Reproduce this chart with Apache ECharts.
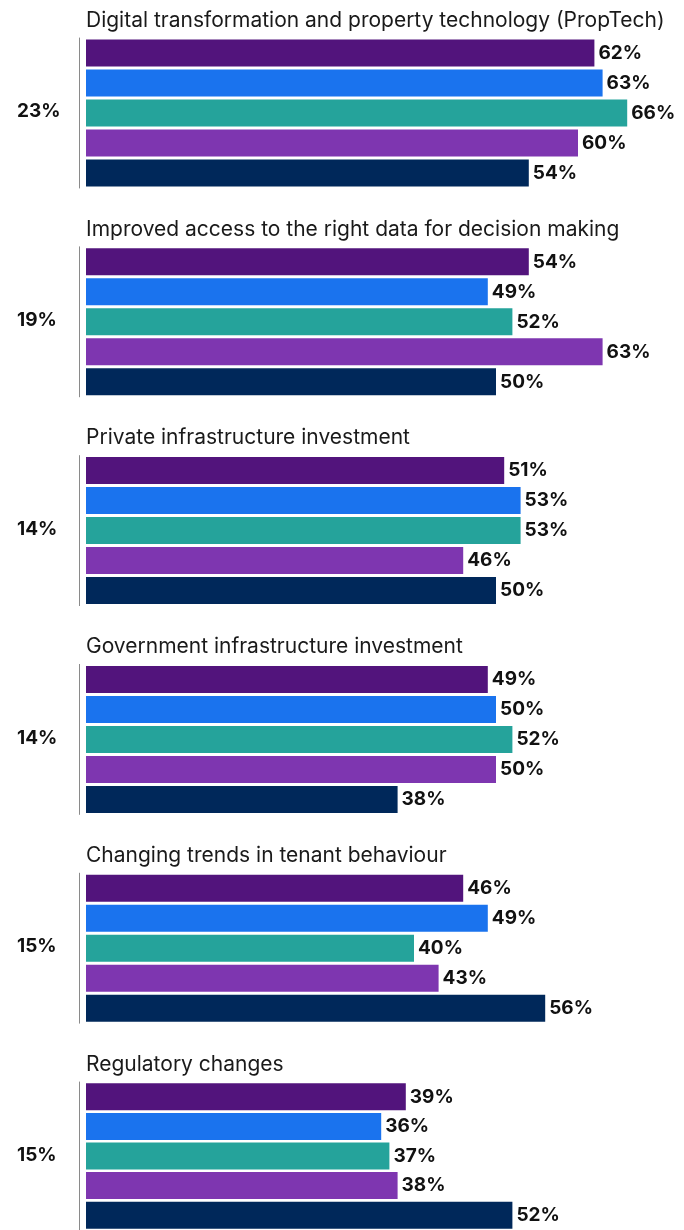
<!DOCTYPE html>
<html>
<head>
<meta charset="utf-8">
<script src="https://cdn.jsdelivr.net/npm/echarts@6/dist/echarts.min.js"></script>
<style>
  html, body { margin: 0; padding: 0; background: #ffffff; }
  #chart { width: 684px; height: 1230px; }
</style>
</head>
<body>
<div id="chart"></div>
<script>
// Survey themes, each with its overall share and five segment results
const topics = [
  'Digital transformation and property technology (PropTech)',
  'Improved access to the right data for decision making',
  'Private infrastructure investment',
  'Government infrastructure investment',
  'Changing trends in tenant behaviour',
  'Regulatory changes'
];
const shares = [23, 19, 14, 14, 15, 15];
const segments = ['S1', 'S2', 'S3', 'S4', 'S5'];
const values = [
  [62, 63, 66, 60, 54],
  [54, 49, 52, 63, 50],
  [51, 53, 53, 46, 50],
  [49, 50, 52, 50, 38],
  [46, 49, 40, 43, 56],
  [39, 36, 37, 38, 52]
];
const segmentColors = ['#52147c', '#1a73ee', '#25a39b', '#7e36b0', '#00285a'];

const FONT = 'Inter, Roboto, sans-serif';
const GROUP_PITCH = 208.8;
const GRID_TOP0 = 38;
const GRID_LEFT = 86;
const GRID_H = 150;
const GRID_W = 574;

const grids = [], xAxes = [], yAxes = [], series = [], titles = [];

topics.forEach((topic, i) => {
  const top = GRID_TOP0 + i * GROUP_PITCH;
  grids.push({ left: GRID_LEFT, top: top, width: GRID_W, height: GRID_H, containLabel: false });
  xAxes.push({
    gridIndex: i, type: 'value', min: 0, max: 70, show: false
  });
  yAxes.push({
    gridIndex: i, type: 'category', data: segments, inverse: true,
    offset: 7,
    axisLine: { show: true, onZero: false, lineStyle: { color: '#8a8a8a', width: 1 } },
    axisTick: { show: false },
    axisLabel: { show: false }
  });
  series.push({
    type: 'bar', xAxisIndex: i, yAxisIndex: i,
    barWidth: 27,
    data: values[i].map((v, k) => ({ value: v, itemStyle: { color: segmentColors[k] } })),
    label: {
      show: true, position: 'right', distance: 4,
      formatter: '{c}%',
      fontFamily: FONT, fontWeight: 'bold', fontSize: 19, color: '#111111'
    },
    animation: false
  });
  titles.push({
    text: topic, left: 86, top: 10 + i * GROUP_PITCH, padding: 0,
    textStyle: { fontFamily: FONT, fontWeight: 'normal', fontSize: 21, color: '#1a1a1a' }
  });
  titles.push({
    text: shares[i] + '%', left: 17, top: top + GRID_H / 2 - 11, padding: 0,
    textStyle: { fontFamily: FONT, fontWeight: 'bold', fontSize: 19, color: '#111111' }
  });
});

const chart = echarts.init(document.getElementById('chart'), null, { renderer: 'canvas' });
chart.setOption({
  backgroundColor: '#ffffff',
  animation: false,
  title: titles,
  grid: grids,
  xAxis: xAxes,
  yAxis: yAxes,
  series: series
});
</script>
</body>
</html>
